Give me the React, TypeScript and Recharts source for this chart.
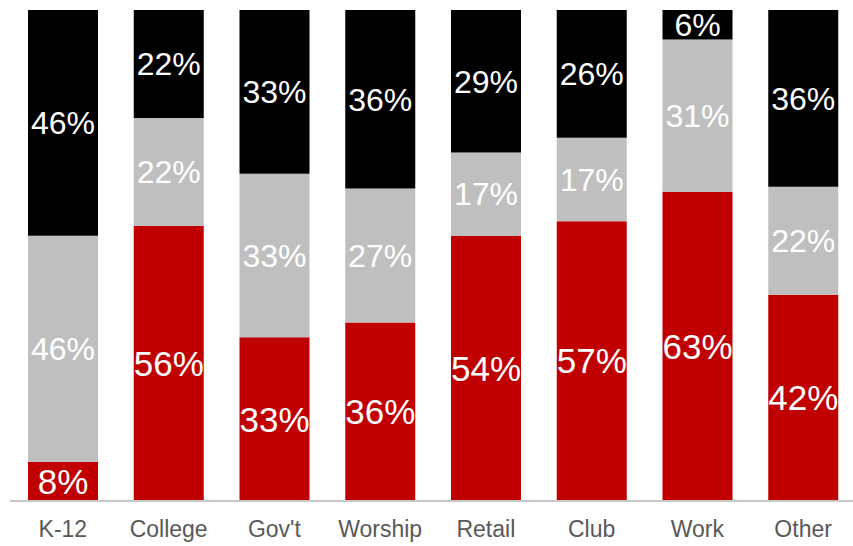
import { BarChart, Bar, XAxis, YAxis, LabelList } from 'recharts'

const categories = ['K-12', 'College', "Gov't", 'Worship', 'Retail', 'Club', 'Work', 'Other']
const redValues = [8, 56, 33, 36, 54, 57, 63, 42]
const grayValues = [46, 22, 33, 27, 17, 17, 31, 22]
const blackValues = [46, 22, 33, 36, 29, 26, 6, 36]

const data = categories.map((name, i) => ({
  name,
  red: redValues[i],
  gray: grayValues[i],
  black: blackValues[i],
}))

const FONT = '"Liberation Sans", Arial, sans-serif'
const pct = (v: any) => `${v}%`

export default function App() {
  return (
    <div style={{ position: 'absolute', left: 0, top: 0, width: 853, height: 546, overflow: 'hidden', background: '#fff' }}>
      <BarChart
        width={856}
        height={546}
        data={data}
        stackOffset="expand"
        barSize={70}
        margin={{ top: 10, right: 0, bottom: 0, left: 10 }}
        style={{ fontFamily: FONT }}
      >
        <XAxis
          dataKey="name"
          height={45}
          tickLine={false}
          tickMargin={14}
          axisLine={{ stroke: '#c8c8c8', strokeWidth: 2 }}
          tick={{ fill: '#595959', fontSize: 23, fontFamily: FONT }}
        />
        <YAxis hide domain={[0, 1]} />
        <Bar dataKey="red" stackId="a" fill="#c00000" isAnimationActive={false}>
          <LabelList dataKey="red" position="center" formatter={pct} fill="#fff" fontSize={35} fontFamily={FONT} />
        </Bar>
        <Bar dataKey="gray" stackId="a" fill="#bfbfbf" isAnimationActive={false}>
          <LabelList dataKey="gray" position="center" formatter={pct} fill="#fff" fontSize={32} fontFamily={FONT} />
        </Bar>
        <Bar dataKey="black" stackId="a" fill="#000000" isAnimationActive={false}>
          <LabelList dataKey="black" position="center" formatter={pct} fill="#fff" fontSize={32} fontFamily={FONT} />
        </Bar>
      </BarChart>
    </div>
  )
}
